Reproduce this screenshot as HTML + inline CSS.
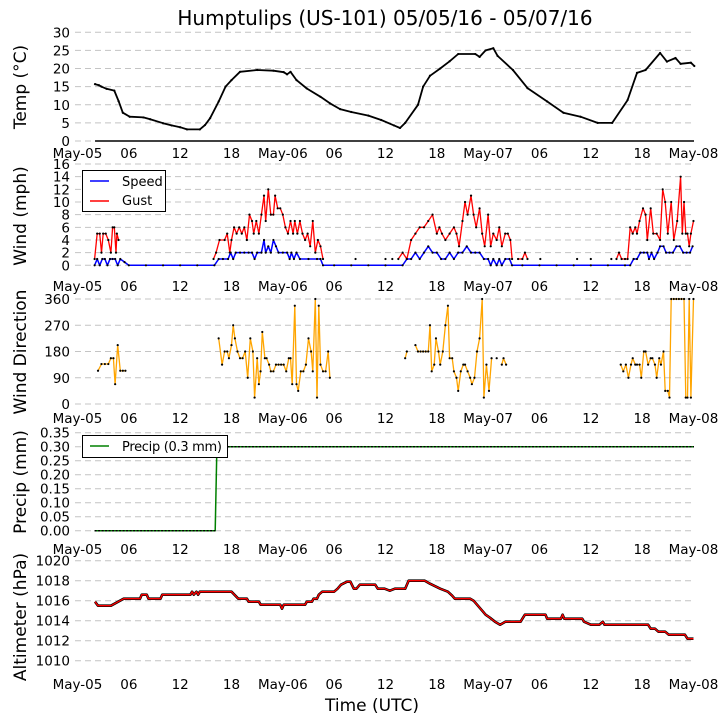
<!DOCTYPE html>
<html><head><meta charset="utf-8"><style>
html,body{margin:0;padding:0;background:#fff}
svg{display:block;font-family:"DejaVu Sans","Liberation Sans",sans-serif}
</style></head><body>
<svg id="chart" width="727" height="725" viewBox="0 0 727 725" xmlns="http://www.w3.org/2000/svg">
<text x="385" y="25" font-size="20" text-anchor="middle">Humptulips (US-101) 05/05/16 - 05/07/16</text>
<text x="372" y="711" font-size="17" text-anchor="middle">Time (UTC)</text>
</svg>
<script>
const xTickHours = [0,6,12,18,24,30,36,42,48,54,60,66,72];
const xTickLabels = ["May-05","06","12","18","May-06","06","12","18","May-07","06","12","18","May-08"];
const tempTicks = [0,5,10,15,20,25,30];
const windTicks = [0,2,4,6,8,10,12,14,16];
const dirTicks = [0,90,180,270,360];
const precipTicks = [0,0.05,0.10,0.15,0.20,0.25,0.30,0.35];
const altTicks = [1010,1012,1014,1016,1018,1020];

const tempPts = [[2.05,15.7],[2.5,15.4],[2.8,15],[3.4,14.4],[4.3,13.9],[4.8,11],[5.3,7.8],[6.1,6.7],[7.7,6.5],[8.5,6],[10,4.9],[11,4.3],[12,3.8],[12.8,3.2],[14.3,3.2],[14.9,4.4],[15.5,6.3],[16.5,10.9],[17.3,15],[18,16.8],[19,19.1],[21,19.6],[22.9,19.4],[24.1,19],[24.5,18.4],[24.9,19.1],[25.6,16.8],[26.8,14.5],[28.4,12.2],[29.5,10.4],[30.7,8.8],[32,8],[34,7],[35.5,5.8],[37,4.3],[37.7,3.6],[38.3,5],[39.8,10],[40.4,15],[41.2,18],[42.4,20],[43.5,22],[44.5,24],[46.5,24],[47,23.2],[47.7,25],[48.6,25.6],[49.1,23.5],[50.9,19.6],[52.6,14.6],[54.9,10.9],[56.8,7.8],[58.8,6.7],[60.8,5],[62.5,5],[64.3,11.3],[65.4,18.8],[66.4,19.6],[68.1,24.3],[68.9,21.9],[69.9,22.9],[70.5,21.3],[71.7,21.6],[72.1,20.7]];

const speedPts = [[2,0],[2.3,1],[2.6,0],[2.9,1],[3.2,1],[3.5,0],[3.8,1],[4.1,1],[4.4,1],[4.7,0],[5,1],[5.5,0.5],[6,0],[8,0],[10,0],[12,0],[14,0],[16,0],[16.5,1],[17,1],[17.6,1],[17.9,2],[18.2,1],[18.5,2],[19,2],[19.5,2],[20,2],[20.4,2],[20.7,1],[21,2],[21.5,2],[21.8,4],[22,2],[22.3,3],[22.6,2],[22.9,4],[23.2,3],[23.5,2],[24,2],[24.5,2],[24.8,1],[25,2],[25.3,1],[25.6,2],[26,1],[27,1],[28,1],[28.4,1],[28.7,0],[30,0],[32,0],[34,0],[36,0],[38,0],[38.5,1],[39,1],[39.5,2],[40,1],[40.5,2],[41,3],[41.5,2],[42,2],[42.5,1],[43,1],[43.5,2],[44,1],[44.5,2],[45,2],[45.5,3],[46,2],[46.5,2],[47,2],[47.5,1],[48,1],[48.3,0],[48.6,1],[49,0],[49.3,1],[49.6,0],[50,1],[50.5,1],[50.8,0],[52,0],[54,0],[56,0],[58,0],[60,0],[62,0],[64,0],[64.6,0],[65,1],[65.4,1],[65.8,2],[66.2,2],[66.6,2],[66.8,1],[67.1,2],[67.4,1],[67.8,2],[68.1,3],[68.5,3],[68.8,2],[69.2,2],[69.6,2],[70,3],[70.4,3],[70.8,2],[71.2,2],[71.6,2],[71.9,3]];

const gustPts = [[2,1],[2.3,5],[2.6,5],[2.8,2],[3,5],[3.3,5],[3.6,4],[3.9,2],[4.1,6],[4.3,6],[4.5,2],[4.6,5],[4.8,4],null,
[15.9,1],[16.2,2],[16.6,4],[17.2,4],[17.5,5],[17.8,2],[18,4],[18.3,6],[18.6,5],[18.9,6],[19.2,5],[19.5,6],[19.8,4],[20.1,8],[20.4,7],[20.6,5],[20.9,7],[21.2,5],[21.5,8],[21.8,11],[22,7],[22.3,12],[22.6,8],[22.9,8],[23.1,11],[23.4,9],[23.7,9],[24,8],[24.3,6],[24.6,5],[24.9,7],[25.2,5],[25.4,7],[25.7,5],[26,7],[26.3,5],[26.6,4],[26.9,5],[27.2,3],[27.5,7],[27.8,2],[28.1,4],[28.4,3],[28.7,1],null,
[32.5,1],null,[36,1],null,[36.8,1],null,
[37.5,1],[38,2],[38.5,1],[39,4],[39.5,5],[40,6],[40.5,6],[41,7],[41.5,8],[42,5],[42.3,6],[42.6,5],[43,4],[43.5,5],[44,6],[44.3,5],[44.6,3],[45,7],[45.3,10],[45.6,8],[46,11],[46.3,8],[46.6,6],[47,9],[47.3,5],[47.6,3],[48,8],[48.3,3],[48.6,5],[49,4],[49.3,6],[49.6,3],[50,5],[50.3,5],[50.6,4],[50.8,1],null,
[51.5,1],[52,1],[52.3,2],[52.6,1],null,[54.1,1],null,[58.4,1],null,[60,1],null,[62.4,1],null,
[63,1],[63.3,2],[63.6,1],[64,1],[64.3,1],[64.6,6],[64.9,5],[65.2,6],[65.4,5],[65.7,7],[66.1,9],[66.4,8],[66.6,4],[67,9],[67.3,5],[67.7,5],[68.1,4],[68.4,12],[68.7,10],[69,5],[69.4,10],[69.7,4],[70.1,7],[70.5,14],[70.7,5],[70.9,10],[71.1,5],[71.3,5],[71.5,3],[71.7,5],[72,7]];

const dirPts = [[2.4,114],[2.8,137],[3.2,137],[3.6,137],[3.9,157],[4.2,157],[4.4,68],[4.7,202],[5,114],[5.3,114],[5.6,114],null,
[16.5,225],[16.9,135],[17.2,180],[17.5,180],[17.7,157],[18,202],[18.2,270],[18.4,225],[18.7,180],[19,157],[19.3,157],[19.6,180],[19.9,90],[20.2,225],[20.5,180],[20.7,22],[21,157],[21.2,68],[21.4,112],[21.6,247],[21.9,157],[22.1,157],[22.4,135],[22.6,112],[22.9,112],[23.2,135],[23.5,135],[23.8,135],[24.1,135],[24.4,112],[24.7,157],[24.9,157],[25.1,68],[25.4,337],[25.6,68],[25.8,45],[26.1,112],[26.4,112],[26.7,135],[27,225],[27.3,180],[27.5,112],[27.8,360],[28,22],[28.2,337],[28.4,135],[28.7,112],[29,112],[29.3,180],[29.5,90],null,
[38.3,157],[38.5,180],null,[39.5,202],[39.8,180],[40.1,180],[40.4,180],[40.7,180],[41,180],[41.2,270],[41.4,112],[41.7,135],[41.9,225],[42.2,180],[42.4,135],[42.7,180],[43,270],[43.3,337],[43.5,157],[43.8,157],[44,112],[44.3,90],[44.5,45],[44.8,112],[45.1,135],[45.3,135],[45.6,112],[45.9,90],[46.1,68],[46.4,90],[46.7,180],[47,225],[47.3,360],[47.5,22],[47.8,135],[48.1,45],[48.4,157],null,[49,157],null,[49.6,135],[49.8,157],[50.1,135],null,
[63.5,135],[63.8,112],[64.1,135],[64.4,90],[64.7,135],[64.9,157],[65.2,135],[65.4,135],[65.7,135],[65.9,90],[66.2,180],[66.4,180],[66.7,135],[67,157],[67.2,157],[67.5,135],[67.7,90],[68,157],[68.2,135],[68.5,180],[68.7,45],[69,45],[69.2,22],[69.4,360],[69.7,360],[70,360],[70.3,360],[70.6,360],[70.9,360],[71.1,22],[71.3,22],[71.5,360],[71.7,22],[72,360]];

const precipPts = [[2,0],[4,0],[6,0],[8,0],[10,0],[12,0],[14,0],[16.1,0],[16.3,0.3],[20,0.3],[24,0.3],[30,0.3],[36,0.3],[42,0.3],[48,0.3],[54,0.3],[60,0.3],[66,0.3],[72,0.3]];

const altPts = [[2.05,1015.9],[2.4,1015.5],[3.9,1015.5],[5.4,1016.2],[7.3,1016.2],[7.5,1016.6],[8.1,1016.6],[8.3,1016.2],[9.7,1016.2],[9.9,1016.6],[13.2,1016.6],[13.4,1016.9],[13.6,1016.6],[13.9,1016.9],[14.1,1016.6],[14.3,1016.9],[18,1016.9],[18.8,1016.2],[19.8,1016.2],[20,1015.9],[21.2,1015.9],[21.4,1015.6],[23.7,1015.6],[23.9,1015.2],[24.1,1015.6],[26.6,1015.6],[26.8,1015.9],[27.4,1015.9],[27.6,1016.2],[28,1016.2],[28.2,1016.6],[28.6,1016.9],[30,1016.9],[30.4,1017.2],[30.8,1017.6],[31.5,1017.9],[31.9,1017.9],[32.3,1017.2],[32.6,1017.2],[33,1017.6],[34.8,1017.6],[35.1,1017.2],[35.9,1017.2],[36.5,1017],[37.1,1017.2],[38.3,1017.2],[38.7,1018],[40.6,1018],[41.2,1017.7],[42.4,1017.2],[43.3,1016.9],[43.8,1016.5],[44.1,1016.2],[45.9,1016.2],[46.3,1016],[46.8,1015.5],[47.3,1015],[47.7,1014.6],[48.2,1014.3],[48.8,1013.9],[49.4,1013.6],[50,1013.9],[51.8,1013.9],[52,1014.2],[52.3,1014.6],[54.7,1014.6],[54.9,1014.2],[56.5,1014.2],[56.7,1014.6],[56.9,1014.2],[59,1014.2],[59.2,1013.9],[60,1013.6],[61,1013.6],[61.4,1013.9],[61.6,1013.6],[66.7,1013.6],[67,1013.2],[67.5,1013.2],[67.9,1012.9],[68.7,1012.9],[69.1,1012.6],[71,1012.6],[71.3,1012.2],[72,1012.2]];

const NS = "http://www.w3.org/2000/svg";
const svg = document.getElementById("chart");
const X0 = 77.5, PXH = 8.555, GL = 75, GR = 694;
function xs(h){ return X0 + h*PXH; }
function mk(tag, attrs, parent){
  const e = document.createElementNS(NS, tag);
  for (const k in attrs) e.setAttribute(k, attrs[k]);
  (parent||svg).appendChild(e);
  return e;
}

function panel(cfg){
  const g = mk("g", {});
  
  
  const ys = v => cfg.y0 + (v - cfg.v0) * (cfg.y1 - cfg.y0) / (cfg.v1 - cfg.v0);
  cfg.ticks.forEach((t, i) => {
    const y = ys(t);
    const gl = mk("line", {x1:GL, x2:GR, y1:y, y2:y, stroke:"#c4c4c4", "stroke-width":1, "stroke-dasharray":"6,4"}, g);
    
    
    const tl = mk("text", {x:70, y:y+5, "font-size":13.5, "text-anchor":"end"}, g);
    
    
    tl.textContent = cfg.fmt ? cfg.fmt(t) : t;
  });
  xTickHours.forEach((h, i) => {
    const tl = mk("text", {x:xs(h), y:cfg.xlabY, "font-size":13.5, "text-anchor":"middle"}, g);
    
    
    tl.textContent = xTickLabels[i];
  });
  const yl = mk("text", {x:0, y:0, "font-size":17, "text-anchor":"middle", transform:`translate(${cfg.ylabX},${cfg.ylabY}) rotate(-90)`}, g);
  
  
  yl.textContent = cfg.ylabel;
  return {g, ys};
}

function series(p, pts, color, width, name, dots){
  let seg = [];
  const segs = [];
  pts.forEach(pt => { if (pt === null){ if (seg.length) segs.push(seg); seg = []; } else seg.push(pt); });
  if (seg.length) segs.push(seg);
  segs.forEach(s => {
    if (s.length > 1){
      const pl = mk("polyline", {points: s.map(q => xs(q[0]).toFixed(1)+","+p.ys(q[1]).toFixed(1)).join(" "), fill:"none", stroke:color, "stroke-width":width, "stroke-linejoin":"round"}, p.g);
      
      
    }
  });
  if (dots){
    pts.forEach(q => {
      if (q === null) return;
      const c = mk("circle", {cx:xs(q[0]), cy:p.ys(q[1]), r:1.1, fill:"#000"}, p.g);
      
      
    });
  }
}

// Temperature
const pT = panel({name:"temp", y0:141, y1:32.3, v0:0, v1:30, ticks:tempTicks, xlabY:158, ylabX:26, ylabY:87, ylabel:"Temp (\u00B0C)"});
const zl = mk("line", {x1:xs(2.05), x2:GR, y1:141, y2:141, stroke:"#000", "stroke-width":1.5}, pT.g);


series(pT, tempPts, "#000", 1.8, "temp", true);

// Wind
const pW = panel({name:"wind", y0:265.3, y1:164, v0:0, v1:16, ticks:windTicks, xlabY:291, ylabX:26, ylabY:216, ylabel:"Wind (mph)"});
series(pW, gustPts, "#ff0000", 1.3, "gust", true);
series(pW, speedPts, "#0000ff", 1.5, "speed", true);
const lg = mk("g", {}, pW.g);


mk("rect", {x:82.5, y:170.5, width:83, height:41, fill:"#fff", stroke:"#000", "stroke-width":1}, lg);
mk("line", {x1:90, x2:109, y1:181, y2:181, stroke:"#0000ff", "stroke-width":1.5}, lg);
mk("line", {x1:90, x2:109, y1:201, y2:201, stroke:"#ff0000", "stroke-width":1.5}, lg);
const ls = mk("text", {x:122, y:186, "font-size":13}, lg);


ls.textContent = "Speed";
const lgu = mk("text", {x:122, y:205, "font-size":13}, lg);


lgu.textContent = "Gust";

// Wind direction
const pD = panel({name:"wind-direction", y0:404, y1:299, v0:0, v1:360, ticks:dirTicks, xlabY:423, ylabX:26, ylabY:352, ylabel:"Wind Direction"});
series(pD, dirPts, "#ffa500", 1.3, "direction", true);

// Precip
const pP = panel({name:"precip", y0:530.7, y1:432.7, v0:0, v1:0.35, ticks:precipTicks, xlabY:554, ylabX:26, ylabY:482, ylabel:"Precip (mm)", fmt:t => t.toFixed(2)});
series(pP, precipPts, "#008000", 1.5, "precip", false);
const pdots = mk("line", {x1:xs(2), x2:xs(16.1), y1:530.7, y2:530.7, stroke:"#000", "stroke-width":1.5, "stroke-dasharray":"2,1.5"}, pP.g);


const pdots2 = mk("line", {x1:xs(16.3), x2:GR, y1:pP.ys(0.3), y2:pP.ys(0.3), stroke:"#000", "stroke-width":1.5, "stroke-dasharray":"2,1.5"}, pP.g);


const pl = mk("g", {}, pP.g);


mk("rect", {x:82.5, y:435.5, width:145, height:22, fill:"#fff", stroke:"#000", "stroke-width":1}, pl);
mk("line", {x1:90, x2:109, y1:446, y2:446, stroke:"#008000", "stroke-width":1.5}, pl);
const plt = mk("text", {x:122, y:451, "font-size":13, textLength:100}, pl);


plt.textContent = "Precip (0.3 mm)";

// Altimeter
const pA = panel({name:"altimeter", y0:660.7, y1:560.7, v0:1010, v1:1020, ticks:altTicks, xlabY:689, ylabX:26, ylabY:617, ylabel:"Altimeter (hPa)"});
series(pA, altPts, "#000", 2.6, "altimeter-shadow", false);
series(pA, altPts, "#ff0000", 1.3, "altimeter", false);
</script>
</body></html>
